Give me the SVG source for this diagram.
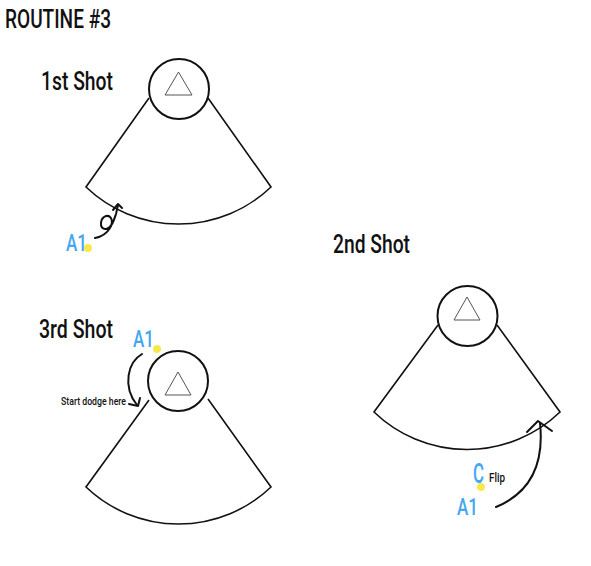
<svg xmlns="http://www.w3.org/2000/svg" width="591" height="566" viewBox="0 0 591 566">
<style>
.field{fill:none;stroke:#111;stroke-width:1.6}
.ring{fill:#fff;stroke:#111;stroke-width:2}
.tri{fill:none;stroke:#555;stroke-width:1}
.title{font-family:Roboto,"Liberation Sans","DejaVu Sans",sans-serif;font-weight:500;fill:#111}
.a1{font-family:Roboto,"Liberation Sans","DejaVu Sans",sans-serif;font-weight:500;fill:#45a6f2}
.dot{fill:#f7e94c}
.arr{fill:none;stroke:#111;stroke-width:2;stroke-linecap:round;stroke-linejoin:round}
</style>
<rect width="591" height="566" fill="#fff"/>
<text class="title" x="5" y="28" font-size="25" textLength="106" lengthAdjust="spacingAndGlyphs">ROUTINE #3</text>

<g id="shot1">
<text class="title" x="41" y="90" font-size="25" textLength="72" lengthAdjust="spacingAndGlyphs">1st Shot</text>
<path class="field" d="M149,98 L86,187 A134,134 0 0 0 271,187 L208,98"/>
<circle class="ring" cx="179" cy="89" r="30"/>
<polygon class="tri" points="165,95 192,95 178.5,72"/>
<text class="a1" x="66" y="251" font-size="24" textLength="21" lengthAdjust="spacingAndGlyphs">A1</text>
<circle class="dot" cx="88" cy="248" r="4"/>
</g>

<g id="shot2">
<text class="title" x="333" y="253" font-size="25" textLength="77" lengthAdjust="spacingAndGlyphs">2nd Shot</text>
<path class="field" d="M438,325 L374,412 A134,134 0 0 0 560,412 L497,325"/>
<circle class="ring" cx="467.5" cy="316" r="30"/>
<polygon class="tri" points="454,320 480,320 467,297"/>
<text class="a1" x="473" y="483" font-size="27" textLength="11" lengthAdjust="spacingAndGlyphs">C</text>
<text class="title" x="489" y="482" font-size="12" textLength="16" lengthAdjust="spacingAndGlyphs">Flip</text>
<circle class="dot" cx="481" cy="487" r="4"/>
<text class="a1" x="457" y="515" font-size="24" textLength="21" lengthAdjust="spacingAndGlyphs">A1</text>
</g>

<g id="shot3">
<text class="title" x="39" y="338" font-size="25" textLength="74" lengthAdjust="spacingAndGlyphs">3rd Shot</text>
<path class="field" d="M149,400 L86,487 A134,134 0 0 0 271,487 L208,399"/>
<circle class="ring" cx="178" cy="381" r="30"/>
<polygon class="tri" points="165,395 191,395 178,372"/>
<text class="a1" x="133" y="347" font-size="24" textLength="21" lengthAdjust="spacingAndGlyphs">A1</text>
<circle class="dot" cx="157" cy="349" r="4"/>
<text class="title" x="61" y="405" font-size="10" textLength="65" lengthAdjust="spacingAndGlyphs">Start dodge here</text>
</g>

<g id="connectors">
<path class="arr" d="M95,238 C101,237 107,233 110,228 C114,221 111,215 106,216 C100,218 99,228 105,229 C111,230 114,220 116,214 L118,205"/>
<path class="arr" d="M113,210 L118,204 L122,208"/>
<path class="arr" d="M142,354 C128,362 122,386 137,405"/>
<path class="arr" d="M129,404 L138,406 L140,398"/>
<path class="arr" d="M496,507 C525,495 545,470 540,423"/>
<path class="arr" stroke-width="5" d="M527,432 L538,421 L552,431"/>
</g>
</svg>
